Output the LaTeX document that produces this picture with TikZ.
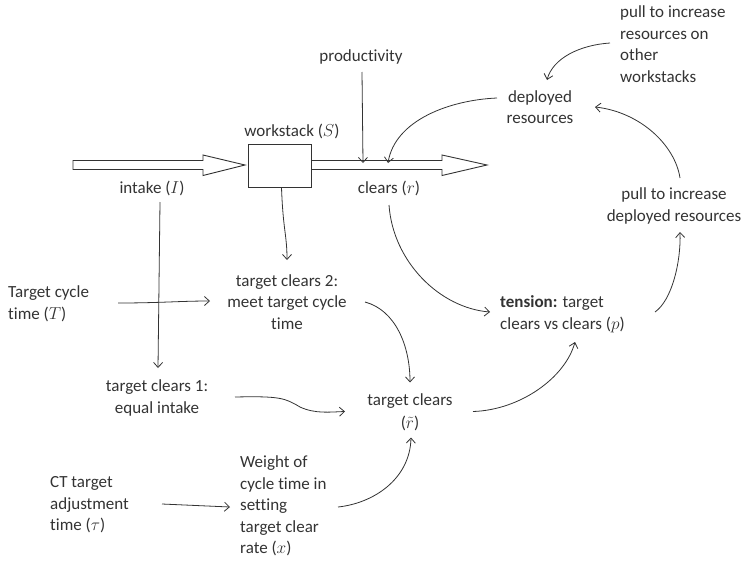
\documentclass[tikz,border=0pt]{standalone}
\usepackage{fontspec}
\setmainfont{Carlito}[Ligatures={NoCommon,NoDiscretionary}]
\usetikzlibrary{arrows.meta,calc}
\definecolor{ink}{HTML}{333333}
\begin{document}
\begin{tikzpicture}[x=1pt,y=-1pt,
  lbl/.style={inner sep=0pt,text=ink,font=\fontsize{17}{21.5}\selectfont},
  lblc/.style={lbl,align=center},
  lbll/.style={lbl,align=left},
  conn/.style={draw=ink,line width=0.8pt,-{Straight Barb[length=5pt,width=9pt]}},
  flow/.style={draw=ink,line width=0.9pt,fill=white}]
\useasboundingbox (0,0) rectangle (743,562);
% flow pipe
\draw[flow] (73,160.5) -- (203,160.5) -- (203,155) -- (245,165) -- (203,175.5) -- (203,169.5) -- (73,169.5) -- cycle;
\draw[flow] (311,160.5) -- (442,160.5) -- (442,155) -- (487,165) -- (442,175.5) -- (442,169.5) -- (311,169.5) -- cycle;
\node[draw=ink,line width=0.9pt,fill=white,minimum width=63pt,minimum height=43pt,inner sep=0pt] (box) at (279.5,165.5) {};
\coordinate (pin) at (363,163);
\coordinate (din) at (388,163);
% labels
\node[lblc] (prod) at (361,57) {productivity};
\node[lblc] (ws) at (292,131) {workstack ($S$)};
\node[lblc] (intake) at (152,188) {intake ($I$)};
\node[lblc] (clears) at (389,188) {clears ($r$)};
\node[lblc] (dep) at (540,107) {deployed\\resources};
\node[lbll,anchor=west] (pullo) at (620,44) {pull to increase\\resources on\\other\\workstacks};
\node[lblc] (pulld) at (674,206) {pull to increase\\deployed resources};
\node[lbll,anchor=west] (tension) at (500,314) {\textbf{tension:} target\\clears vs clears ($p$)};
\node[lblc] (tc) at (410,412.5) {target clears\\[1pt]($\tilde{r}$)};
\node[lblc] (tc2) at (287,302) {target clears 2:\\meet target cycle\\time};
\node[lbll,anchor=west] (tct) at (8,304) {Target cycle\\time ($T$)};
\node[lblc] (tc1) at (157,398) {target clears 1:\\equal intake};
\node[lbll,anchor=west] (ct) at (50,505) {CT target\\adjustment\\time ($\tau$)};
\node[lbll,anchor=west] (w) at (240,506) {Weight of\\cycle time in\\setting\\target clear\\rate ($x$)};
% connectors
\draw[conn] ($(prod)+(1,15)$) -- (pin);
\draw[conn] ($(dep)+(-43,-9)$) .. controls (450,100) and (395,120) .. (din);
\draw[conn] ($(pullo.west)+(-10,-1)$) .. controls (580,45) and (553,58) .. ($(dep)+(7,-27)$);
\draw[conn] ($(pulld)+(6,-28)$) .. controls (675,145) and (640,112) .. ($(dep)+(55,0)$);
\draw[conn] ($(tension.west)+(155,-2)$) .. controls (672,300) and (681,262) .. ($(pulld)+(6,26)$);
\draw[conn] ($(clears)+(0,17)$) .. controls (393,262) and (440,308) .. ($(tension.west)+(-10,-2)$);
\draw[conn] ($(tc)+(63,-1)$) .. controls (520,410) and (565,378) .. ($(tension.west)+(75,28)$);
\draw[conn] ($(box.south)+(2,0)$) .. controls (283,230) and (287,235) .. ($(tc2)+(0,-42)$);
\draw[conn] ($(intake)+(8,14)$) -- ($(tc1)+(1,-30)$);
\draw[conn] ($(tct.west)+(110,-1)$) .. controls (160,303) and (180,301) .. ($(tc2)+(-77,-1)$);
\draw[conn] ($(tc1)+(78,-1)$) .. controls (280,396) and (285,398) .. (300,407) .. controls (315,414) and (330,412) .. ($(tc)+(-65,-1)$);
\draw[conn] ($(tc2)+(78,0)$) .. controls (395,310) and (410,345) .. ($(tc)+(0,-30)$);
\draw[conn] ($(ct.west)+(112,-1)$) -- ($(w.west)+(-10,1)$);
\draw[conn] ($(w.west)+(98,1)$) .. controls (375,503) and (410,478) .. ($(tc)+(1,25)$);
\end{tikzpicture}
\end{document}
